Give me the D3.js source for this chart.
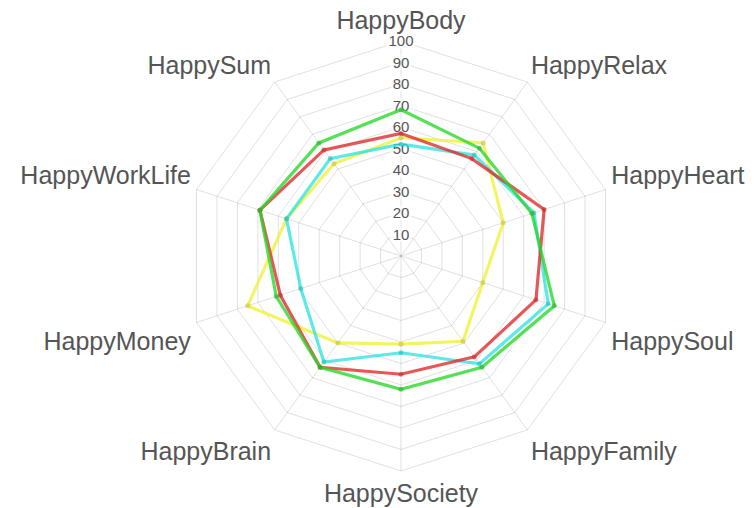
<!DOCTYPE html>
<html><head><meta charset="utf-8">
<script src="https://cdn.jsdelivr.net/npm/d3@7"></script>
<style>html,body{margin:0;padding:0;background:#fff;overflow:hidden}</style>
</head><body>
<svg id="chart" width="755" height="508"></svg>
<script>
const categories = ["HappyBody","HappyRelax","HappyHeart","HappySoul","HappyFamily","HappySociety","HappyBrain","HappyMoney","HappyWorkLife","HappySum"];
const tickValues = [10,20,30,40,50,60,70,80,90,100];
const seriesNames = ["Green","Red","Cyan","Yellow"];
const greenValues  = [68, 62, 64, 75, 64, 62, 64, 61, 69, 65];
const redValues    = [57, 56, 70, 66, 58, 55, 64, 59, 69, 61];
const cyanValues   = [52, 58, 65, 72, 62, 45, 61, 49, 56, 56];
const yellowValues = [55, 65, 50, 40, 49, 41, 50, 75, 56, 53];
const seriesColors = ["rgba(40,215,40,0.78)","rgba(225,40,40,0.78)","rgba(40,225,225,0.75)","rgba(240,240,60,0.8)"];
const pointColors  = ["rgba(40,170,40,0.5)","rgba(180,40,40,0.5)","rgba(40,180,180,0.5)","rgba(190,190,60,0.5)"];

const series = [yellowValues, cyanValues, redValues, greenValues];
const sColors = [seriesColors[3], seriesColors[2], seriesColors[1], seriesColors[0]];
const pColors = [pointColors[3], pointColors[2], pointColors[1], pointColors[0]];

const cx = 401, cy = 256, R = 215;
const svg = d3.select("#chart");
const r = d3.scaleLinear().domain([0,100]).range([0,R]);
const ang = d3.scalePoint().domain(categories).range([0, 2*Math.PI*(categories.length-1)/categories.length]);
const pt = (c, v) => [cx + r(v)*Math.sin(ang(c)), cy - r(v)*Math.cos(ang(c))];
const FONT = "Liberation Sans, Arial, sans-serif";

const g = svg.append("g");
tickValues.forEach(t => {
  g.append("polygon")
    .attr("points", categories.map(c => pt(c,t).join(",")).join(" "))
    .attr("fill","none").attr("stroke","rgba(0,0,0,0.12)").attr("stroke-width",1);
});
categories.forEach(c => {
  const p = pt(c,100);
  g.append("line").attr("x1",cx).attr("y1",cy).attr("x2",p[0]).attr("y2",p[1])
    .attr("stroke","rgba(0,0,0,0.12)").attr("stroke-width",1);
});
tickValues.forEach(t => {
  const y = cy - r(t);
  const txt = g.append("text").attr("x",cx).attr("y",y).attr("dy","0.36em")
    .attr("text-anchor","middle").attr("font-family",FONT)
    .attr("font-size",15).attr("fill","#555").text(t);
  const bb = txt.node().getBBox();
  g.insert("rect", () => txt.node()).attr("x",bb.x-2).attr("y",bb.y+1).attr("width",bb.width+4).attr("height",bb.height-2)
    .attr("fill","rgba(255,255,255,0.75)");
});
const fs = 25;
categories.forEach(c => {
  const deg = Math.round(ang(c)*180/Math.PI);
  const d = R + 6;
  let x = cx + d*Math.sin(ang(c)), y = cy - d*Math.cos(ang(c));
  let anchor = (deg===0||deg===180) ? "middle" : (deg<180 ? "start" : "end");
  let top = y;
  if (deg===90||deg===270) top = y - fs/2;
  else if (deg>270 || deg<90) top = y - fs - (deg===0 ? 3 : 0);
  else top = y + (deg===180 ? 3 : 4);
  g.append("text").attr("x",x).attr("y",top + fs*0.86)
    .attr("text-anchor",anchor).attr("font-family",FONT)
    .attr("font-size",fs).attr("fill","#555").text(c);
});
const line = d3.lineRadial().angle((d,i)=>ang(categories[i])).radius(d=>r(d)).curve(d3.curveLinearClosed);
series.forEach((vals,si) => {
  svg.append("path").attr("transform",`translate(${cx},${cy})`).attr("d", line(vals))
    .attr("fill","none").attr("stroke",sColors[si]).attr("stroke-width",3.2).attr("stroke-linejoin","miter");
  vals.forEach((v,i) => {
    const p = pt(categories[i], v);
    svg.append("circle").attr("cx",p[0]).attr("cy",p[1]).attr("r",2.5)
      .attr("fill",pColors[si]).attr("stroke","none");
  });
});
</script>
</body></html>
